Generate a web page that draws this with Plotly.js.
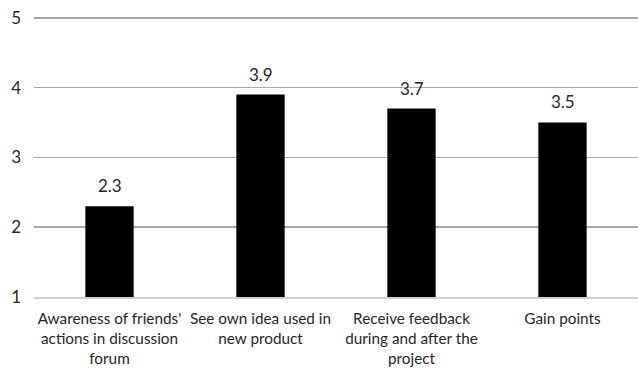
<!DOCTYPE html>
<html><head><meta charset="utf-8">
<script src="https://cdn.plot.ly/plotly-3.0.1.min.js"></script>
<style>html,body{margin:0;padding:0;background:#fff}</style>
</head><body><div id="chart" style="width:638px;height:369px"></div>
<script>
const categories = ["Awareness of friends'<br>actions in discussion<br>forum", "See own idea used in<br>new product", "Receive feedback<br>during and after the<br>project", "Gain points"];
const values = [2.3, 3.9, 3.7, 3.5];
const valueLabels = ["2.3", "3.9", "3.7", "3.5"];
const yTicks = [1, 2, 3, 4, 5];

const annotations = categories.map((c, i) => ({
  x: c, y: values[i], text: valueLabels[i], showarrow: false,
  xanchor: 'center', yanchor: 'bottom', yshift: 8,
  font: {family: 'Lato, sans-serif', size: 17, color: '#262626'}
}));

Plotly.newPlot('chart', [{
  type: 'bar', x: categories, y: values,
  marker: {color: '#000000'}, width: 0.32, hoverinfo: 'none'
}], {
  width: 638, height: 369,
  margin: {l: 34, r: 0, t: 16, b: 72},
  paper_bgcolor: '#fff', plot_bgcolor: '#fff',
  showlegend: false,
  annotations: annotations,
  font: {family: 'Lato, sans-serif', size: 15, color: '#262626'},
  xaxis: {showgrid: false, showline: true, linecolor: '#d0d0d0', linewidth: 1.5, ticks: '', tickfont: {size: 15.3}, ticklabelstandoff: 7, fixedrange: true},
  yaxis: {range: [1, 5.025], tickvals: yTicks, showgrid: true, gridcolor: '#a6a6a6', gridwidth: 1.5, zeroline: false, showline: false, ticks: '', tickfont: {size: 17}, ticklabelstandoff: 12}
}, {displayModeBar: false, staticPlot: true});
</script></body></html>
